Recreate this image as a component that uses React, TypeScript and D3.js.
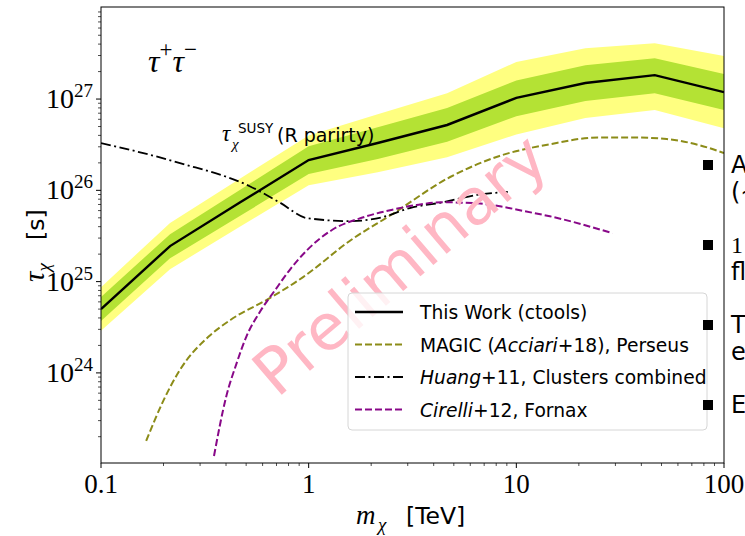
import * as d3 from "d3";

const W = 745;
const H = 536;
const M = { left: 101, right: 724, top: 7, bottom: 463 };

// this work: median limit and containment bands
const massGrid = [0.1, 0.215, 0.464, 1, 2.15, 4.64, 10, 21.5, 46.4, 100];
const tauMedian = [5.0e24, 2.45e25, 7.3e25, 2.15e26, 3.3e26, 5.2e26, 1.03e27, 1.5e27, 1.83e27, 1.19e27];
const tau1Low = [3.7e24, 1.8e25, 5.2e25, 1.51e26, 2.2e26, 3.4e26, 6.5e26, 9.5e26, 1.16e27, 7.6e26];
const tau1High = [6.8e24, 3.3e25, 1.0e26, 3.05e26, 4.9e26, 8.0e26, 1.6e27, 2.35e27, 2.8e27, 1.88e27];
const tau2Low = [2.9e24, 1.37e25, 3.96e25, 1.14e26, 1.58e26, 2.3e26, 4.1e26, 6.2e26, 7.6e26, 4.8e26];
const tau2High = [8.7e24, 4.4e25, 1.33e26, 4.0e26, 6.8e26, 1.16e27, 2.55e27, 3.6e27, 4.1e27, 2.96e27];

// MAGIC (Acciari+18), Perseus
const magicMass = [0.165, 0.2, 0.24, 0.33, 0.42, 0.65, 0.94, 1.6, 2.5, 4.8, 8.3, 14.5, 25, 36, 53, 77, 100];
const magicTau = [1.8e23, 5.0e23, 1.08e24, 2.5e24, 3.8e24, 6.6e24, 1.12e25, 2.86e25, 5.4e25, 1.4e26, 2.38e26, 3.2e26, 3.8e26, 3.8e26, 3.65e26, 3.1e26, 2.56e26];

// Huang+11, clusters combined
const huangMass = [0.1, 0.24, 0.52, 0.73, 0.98, 1.58, 2.28, 3.07, 4.43, 6.46, 9.1];
const huangTau = [3.3e26, 1.99e26, 1.11e26, 7.3e25, 4.97e25, 4.6e25, 5.1e25, 6.4e25, 7.4e25, 8.9e25, 9.6e25];

// Cirelli+12, Fornax
const cirelliMass = [0.35, 0.4, 0.45, 0.5, 0.58, 0.69, 0.81, 0.98, 1.3, 1.8, 2.5, 3.3, 4.4, 6.5, 8.6, 11, 14.5, 29];
const cirelliTau = [1.23e23, 5.4e23, 1.28e24, 2.47e24, 4.6e24, 8.1e24, 1.34e25, 2.2e25, 3.7e25, 5.0e25, 6.1e25, 6.9e25, 7.4e25, 7.2e25, 6.6e25, 5.9e25, 5.2e25, 3.4e25];

const xTickLabels = ["0.1", "1", "10", "100"];
const yTickValues = [1e24, 1e25, 1e26, 1e27];
const yTickExponents = ["24", "25", "26", "27"];

const sans = "DejaVu Sans";
const serif = "Liberation Serif";

const olive = "#8c8c18";
const purple = "#880888";

const x = d3.scaleLog().domain([0.1, 100]).range([M.left, M.right]);
const y = d3.scaleLog().domain([1.03e23, 1.02e28]).range([M.bottom, M.top]);

const zip = (a: number[], b: number[]) => a.map((v, i) => [v, b[i]] as [number, number]);

const line = d3.line<[number, number]>().x((d) => x(d[0])).y((d) => y(d[1]));
const smooth = d3
  .line<[number, number]>()
  .x((d) => x(d[0]))
  .y((d) => y(d[1]))
  .curve(d3.curveMonotoneX);

const band = (lo: number[], hi: number[]) =>
  d3
    .area<number>()
    .x((d) => x(d))
    .y0((_, i) => y(lo[i]))
    .y1((_, i) => y(hi[i]))(massGrid) || "";

const isMajor = (v: number) => Math.abs(Math.log10(v) - Math.round(Math.log10(v))) < 1e-6;

const legendItems = [
  { color: "#000", dash: "", width: 2.4, parts: [["This Work (ctools)", false]] },
  {
    color: olive,
    dash: "7,3",
    width: 2,
    parts: [["MAGIC (", false], ["Acciari", true], ["+18), Perseus", false]],
  },
  {
    color: "#000",
    dash: "10,3.5,2,3.5",
    width: 1.8,
    parts: [["Huang", true], ["+11, Clusters combined", false]],
  },
  {
    color: purple,
    dash: "7,3",
    width: 2,
    parts: [["Cirelli", true], ["+12, Fornax", false]],
  },
];

const bullets = [
  { y: 165, lines: ["A", "(\u223C"] },
  { y: 245, lines: ["1", "fl"] },
  { y: 325, lines: ["T", "e"] },
  { y: 405, lines: ["E"] },
];

export default function App() {
  const xTicks = x.ticks();
  const yTicks = y.ticks().filter((v) => y(v) >= M.top + 1 && y(v) <= M.bottom + 0.5);
  const xMajors = xTicks.filter(isMajor);

  return (
    <svg
      width={W}
      height={H}
      style={{ position: "absolute", left: 0, top: 0, background: "#fff" }}
    >
      <defs>
        <clipPath id="plot">
          <rect x={M.left} y={M.top} width={M.right - M.left} height={M.bottom - M.top} />
        </clipPath>
      </defs>

      <g clipPath="url(#plot)">
        <path d={band(tau2Low, tau2High)} fill="#ffff80" />
        <path d={band(tau1Low, tau1High)} fill="#b4e234" />
        <path d={line(zip(massGrid, tauMedian)) || ""} fill="none" stroke="#000" strokeWidth={2.4} />
        <path
          d={smooth(zip(magicMass, magicTau)) || ""}
          fill="none"
          stroke={olive}
          strokeWidth={2}
          strokeDasharray="7,3"
        />
        <path
          d={smooth(zip(huangMass, huangTau)) || ""}
          fill="none"
          stroke="#000"
          strokeWidth={1.8}
          strokeDasharray="10,3.5,2,3.5"
        />
        <path
          d={smooth(zip(cirelliMass, cirelliTau)) || ""}
          fill="none"
          stroke={purple}
          strokeWidth={2}
          strokeDasharray="7,3"
        />
      </g>

      {/* annotations */}
      <text x={148} y={72} fontFamily={serif} fontStyle="italic" fontSize={32}>
        τ<tspan dy={-15} fontSize={23} fontStyle="normal">+</tspan>
        <tspan dy={15}>τ</tspan>
        <tspan dy={-15} fontSize={23} fontStyle="normal">−</tspan>
      </text>
      <text x={222} y={141} fontFamily={serif} fontStyle="italic" fontSize={23}>
        τ
      </text>
      <text x={232} y={149} fontFamily={serif} fontStyle="italic" fontSize={15}>
        χ
      </text>
      <text x={238} y={133} fontFamily={sans} fontSize={13.5}>
        SUSY
      </text>
      <text x={277} y={142} fontFamily={sans} fontSize={19}>
        (R parirty)
      </text>

      {/* watermark */}
      <text
        transform="translate(403,268) rotate(-40.5)"
        textAnchor="middle"
        dominantBaseline="middle"
        fontFamily={sans}
        fontSize={64}
        fill="#ffb7c4"
      >
        Preliminary
      </text>

      {/* legend */}
      <rect
        x={348}
        y={293}
        width={359}
        height={137}
        rx={4}
        fill="#fff"
        fillOpacity={0.8}
        stroke="#d6d6d6"
      />
      {legendItems.map((it, i) => {
        const ry = 312 + i * 32.5;
        return (
          <g key={i}>
            <line
              x1={355}
              x2={403}
              y1={ry}
              y2={ry}
              stroke={it.color}
              strokeWidth={it.width}
              strokeDasharray={it.dash}
            />
            <text x={420} y={ry + 7} fontFamily={sans} fontSize={18.7}>
              {it.parts.map(([t, ital], j) => (
                <tspan key={j} fontStyle={ital ? "italic" : "normal"}>
                  {t as string}
                </tspan>
              ))}
            </text>
          </g>
        );
      })}

      {/* spines */}
      <rect
        x={M.left}
        y={M.top}
        width={M.right - M.left}
        height={M.bottom - M.top}
        fill="none"
        stroke="#000"
        strokeWidth={1}
      />

      {/* x ticks */}
      {xTicks.map((v, i) => (
        <line
          key={"xt" + i}
          x1={x(v)}
          x2={x(v)}
          y1={M.bottom}
          y2={M.bottom + (isMajor(v) ? 5 : 3)}
          stroke="#000"
          strokeWidth={isMajor(v) ? 1 : 0.7}
        />
      ))}
      {xMajors.map((v, i) => (
        <text
          key={"xl" + i}
          x={x(v)}
          y={493}
          textAnchor="middle"
          fontFamily={serif}
          fontSize={27}
        >
          {xTickLabels[i]}
        </text>
      ))}

      {/* y ticks */}
      {yTicks.map((v, i) => (
        <line
          key={"yt" + i}
          x1={M.left}
          x2={M.left - (isMajor(v) ? 5 : 3)}
          y1={y(v)}
          y2={y(v)}
          stroke="#000"
          strokeWidth={isMajor(v) ? 1 : 0.7}
        />
      ))}
      {yTickValues.map((v, i) => (
        <text
          key={"yl" + i}
          x={93}
          y={y(v) + 9}
          textAnchor="end"
          fontFamily={serif}
          fontSize={28}
        >
          10
          <tspan dy={-11} fontSize={19}>
            {yTickExponents[i]}
          </tspan>
        </text>
      ))}

      {/* axis labels */}
      <text x={356} y={524} fontFamily={serif} fontStyle="italic" fontSize={27}>
        m
      </text>
      <text x={378} y={531} fontFamily={serif} fontStyle="italic" fontSize={19}>
        χ
      </text>
      <text x={406} y={524} fontFamily={sans} fontSize={23.5}>
        [TeV]
      </text>

      <g transform="translate(44,240) rotate(-90)">
        <text x={-42} y={0} fontFamily={serif} fontStyle="italic" fontSize={29}>
          τ
          <tspan dy={6} fontSize={19}>
            χ
          </tspan>
        </text>
        <text x={0} y={0} fontFamily={sans} fontSize={23.5}>
          [s]
        </text>
      </g>

      {/* slide bullets on the right */}
      {bullets.map((b, i) => (
        <g key={"b" + i}>
          <rect x={703} y={b.y - 5} width={10} height={10} fill="#000" />
          {b.lines.map((t, j) => (
            <text
              key={j}
              x={731}
              y={b.y + 8 + j * 27}
              fontFamily={t === "1" ? serif : sans}
              fontSize={24}
            >
              {t}
            </text>
          ))}
        </g>
      ))}
    </svg>
  );
}
